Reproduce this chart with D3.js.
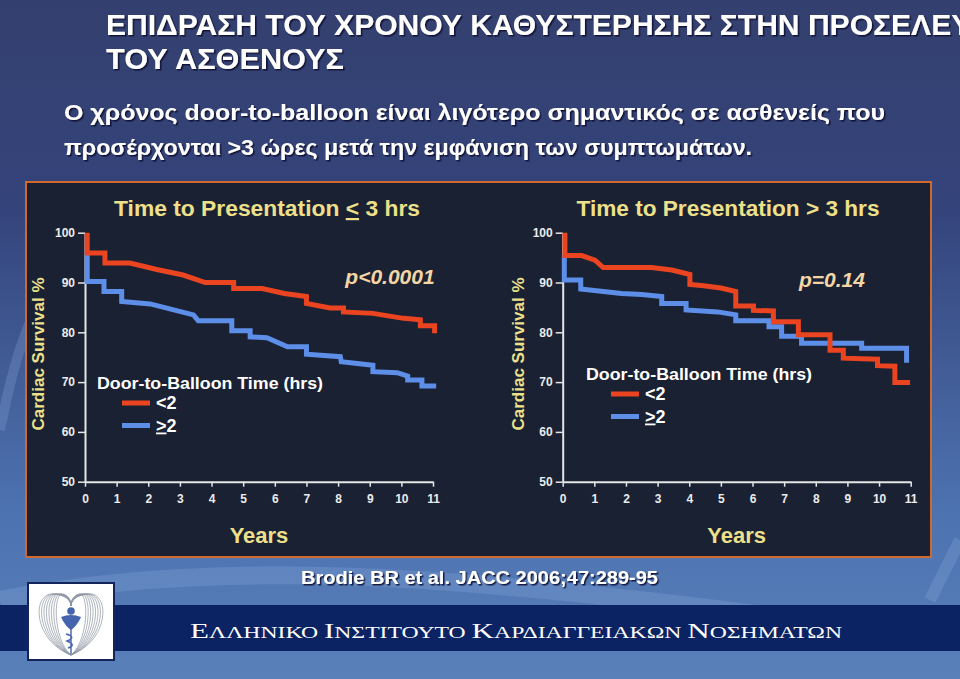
<!DOCTYPE html>
<html>
<head>
<meta charset="utf-8">
<script src="https://cdn.jsdelivr.net/npm/d3@7"></script>
<style>
  body { margin: 0; background: #33406f; }
  svg { display: block; }
</style>
</head>
<body>
<svg id="slide" width="960" height="679"></svg>
<script>
// tick values
const years = d3.range(0, 12);
const survivalTicks = [50, 60, 70, 80, 90, 100];

// Kaplan-Meier curves, [years, survival %]
// presentation <= 3 hrs
const earlyFast = [[0.07, 100], [0.07, 95.9], [0.63, 95.9], [0.63, 93.9], [1.42, 93.9], [2.27, 92.6],
    [3.1, 91.5], [3.8, 90.0], [4.7, 90.0], [4.7, 88.8], [5.6, 88.8], [6.3, 87.8], [7.0, 87.2],
    [7.0, 85.8], [7.75, 84.9], [8.17, 84.9], [8.17, 84.1], [9.1, 83.8], [10.07, 82.8],
    [10.6, 82.5], [10.6, 81.3], [11.05, 81.3], [11.05, 79.8]];
const earlySlow = [[0.07, 96.4], [0.07, 90.2], [0.6, 90.2], [0.6, 88.2], [1.16, 88.2], [1.16, 86.2],
    [2.06, 85.7], [3.43, 83.5], [3.58, 82.3], [4.64, 82.3], [4.64, 80.3], [5.22, 80.3], [5.22, 79.1],
    [5.75, 78.9], [6.4, 77.1], [7.0, 77.1], [7.0, 75.6], [8.07, 75.1], [8.1, 74.1], [9.1, 73.4],
    [9.1, 72.1], [9.87, 71.9], [10.2, 71.2], [10.2, 70.4], [10.65, 70.4], [10.65, 69.2], [11.1, 69.2]];

// presentation > 3 hrs
const lateFast = [[0.07, 100], [0.07, 95.4], [0.6, 95.4], [1.02, 94.5], [1.28, 93.0], [2.81, 93.0],
    [3.45, 92.5], [4.02, 91.6], [4.02, 89.6], [4.39, 89.4], [5.0, 88.9], [5.47, 88.2], [5.47, 85.3],
    [6.03, 85.3], [6.03, 84.4], [6.66, 84.3], [6.66, 82.1], [7.45, 82.1], [7.45, 79.5], [8.45, 79.5],
    [8.45, 76.4], [8.87, 76.4], [8.87, 74.8], [9.95, 74.6], [9.95, 73.3], [10.5, 73.2], [10.5, 69.9],
    [10.98, 69.9]];
const lateSlow = [[0.05, 95.5], [0.05, 90.5], [0.57, 90.5], [0.57, 88.7], [1.86, 87.8], [2.5, 87.6],
    [3.13, 87.2], [3.13, 85.8], [3.9, 85.8], [3.9, 84.5], [4.9, 84.1], [5.47, 83.5], [5.47, 82.3],
    [6.52, 82.3], [6.52, 81.1], [6.92, 81.1], [6.92, 79.2], [7.55, 79.2], [7.55, 77.8], [9.45, 77.8],
    [9.45, 76.8], [10.87, 76.8], [10.87, 73.9]];

const fastColor = "#ea4420";
const slowColor = "#5d8fe9";
const yellow = "#eee08a";
const sans = "'Liberation Sans', Arial, sans-serif";

const svg = d3.select("#slide");
const defs = svg.append("defs");

// drop shadow for header text
let shadow = defs.append("filter").attr("id", "shadow")
    .attr("x", "-5%").attr("y", "-20%").attr("width", "110%").attr("height", "150%");
shadow.append("feDropShadow").attr("dx", 1.5).attr("dy", 1.5)
    .attr("stdDeviation", 0.6).attr("flood-color", "#0b1030").attr("flood-opacity", 0.9);

let bg = defs.append("linearGradient").attr("id", "bg")
    .attr("x1", 0).attr("y1", 0).attr("x2", 0).attr("y2", 1);
bg.append("stop").attr("offset", "0").attr("stop-color", "#33406f");
bg.append("stop").attr("offset", "0.3").attr("stop-color", "#34437a");
bg.append("stop").attr("offset", "0.75").attr("stop-color", "#4d72b0");
bg.append("stop").attr("offset", "1").attr("stop-color", "#5a80ba");

// ---- slide background ----
svg.append("rect").attr("width", 960).attr("height", 679).attr("fill", "url(#bg)");

// faint swooshes
const swoosh = svg.append("g").attr("fill", "none").attr("stroke", "#8fb0e0");
swoosh.append("path").attr("d", "M0,600 C200,560 420,575 640,600 S900,640 960,620")
    .attr("stroke-width", 18).attr("opacity", 0.25);
swoosh.append("path").attr("d", "M0,430 C10,380 20,340 40,300")
    .attr("stroke-width", 10).attr("opacity", 0.25);
swoosh.append("path").attr("d", "M930,600 C940,580 950,560 960,540")
    .attr("stroke-width", 12).attr("opacity", 0.25);

svg.append("rect").attr("x", 0).attr("y", 605).attr("width", 960).attr("height", 46)
    .attr("fill", "#0c2363");

// ---- header ----
const header = svg.append("g").attr("fill", "#ffffff")
    .style("font-family", sans)
    .style("font-weight", "bold")
    .attr("filter", "url(#shadow)");

// the slide title runs past the right edge in the original
header.append("text").attr("x", 106).attr("y", 35).style("font-size", "29px")
    .attr("textLength", 905).attr("lengthAdjust", "spacingAndGlyphs")
    .text("ΕΠΙΔΡΑΣΗ ΤΟΥ ΧΡΟΝΟΥ ΚΑΘΥΣΤΕΡΗΣΗΣ ΣΤΗΝ ΠΡΟΣΕΛΕΥΣΗ");
header.append("text").attr("x", 106).attr("y", 69).style("font-size", "29px")
    .attr("textLength", 238).attr("lengthAdjust", "spacingAndGlyphs")
    .text("ΤΟΥ ΑΣΘΕΝΟΥΣ");
header.append("text").attr("x", 64).attr("y", 120).style("font-size", "22px")
    .attr("textLength", 821).attr("lengthAdjust", "spacingAndGlyphs")
    .text("Ο χρόνος door-to-balloon είναι λιγότερο σημαντικός σε ασθενείς που");
header.append("text").attr("x", 64).attr("y", 155).style("font-size", "22px")
    .attr("textLength", 688).attr("lengthAdjust", "spacingAndGlyphs")
    .text("προσέρχονται >3 ώρες μετά την εμφάνιση των συμπτωμάτων.");

// ---- figure panel ----
svg.append("rect").attr("x", 26).attr("y", 182).attr("width", 905).attr("height", 375)
    .attr("fill", "#1a2132").attr("stroke", "#d0692c").attr("stroke-width", 2);

const panels = [
    {left: 85, title: ["Time to Presentation ", "<", " 3 hrs"], titleX: 267, titleW: 306,
        fast: earlyFast, slow: earlySlow,
        p: "p<0.0001", pX: 390, pY: 284, legendX: 97, legendY: 389, yTitleX: 38},
    {left: 562.7, title: ["Time to Presentation ", ">", " 3 hrs"], titleX: 728, titleW: 303,
        fast: lateFast, slow: lateSlow,
        p: "p=0.14", pX: 832, pY: 287, legendX: 586, legendY: 380, yTitleX: 518}
];

const yScale = d3.scaleLinear().domain([50, 100]).range([481.7, 232.7]);

panels.forEach(function (pn, i) {
    let xScale = d3.scaleLinear().domain([0, 11]).range([pn.left, pn.left + 348]);
    let g = svg.append("g").style("font-family", sans).style("font-weight", "bold");

    // axes
    let yAxis = g.append("g").attr("transform", "translate(" + pn.left + ",0)")
        .call(d3.axisLeft(yScale).tickValues(survivalTicks).tickSize(7).tickSizeOuter(0).tickPadding(3));
    let xAxis = g.append("g").attr("transform", "translate(0," + yScale(50) + ")")
        .call(d3.axisBottom(xScale).tickValues(years).tickSize(5).tickSizeOuter(0).tickPadding(8));
    [yAxis, xAxis].forEach(function (ax) {
        ax.select(".domain").attr("stroke", "#e6e6e6").attr("stroke-width", 2);
        ax.selectAll(".tick line").attr("stroke", "#e6e6e6").attr("stroke-width", 1.5);
        ax.selectAll(".tick text").attr("fill", "#ececec").style("font-size", "12px")
            .style("font-family", sans).style("font-weight", "bold");
    });

    // survival curves
    let line = d3.line().x(d => xScale(d[0])).y(d => yScale(d[1]));
    g.append("path").datum(pn.slow).attr("d", line).attr("fill", "none")
        .attr("stroke", slowColor).attr("stroke-width", 5);
    g.append("path").datum(pn.fast).attr("d", line).attr("fill", "none")
        .attr("stroke", fastColor).attr("stroke-width", 5);

    // titles
    let t = g.append("text").attr("x", pn.titleX).attr("y", 216).attr("text-anchor", "middle")
        .attr("fill", yellow).style("font-size", "22px")
        .attr("textLength", pn.titleW).attr("lengthAdjust", "spacingAndGlyphs");
    t.append("tspan").text(pn.title[0]);
    t.append("tspan").text(pn.title[1]).style("text-decoration", i === 0 ? "underline" : "none");
    t.append("tspan").text(pn.title[2]);

    g.append("text").attr("transform", "translate(" + (pn.yTitleX + 6) + ",354) rotate(-90)")
        .attr("text-anchor", "middle").attr("fill", yellow).style("font-size", "17px")
        .text("Cardiac Survival %");

    g.append("text").attr("x", xScale(5.5)).attr("y", 543).attr("text-anchor", "middle")
        .attr("fill", yellow).style("font-size", "22px").text("Years");

    g.append("text").attr("x", pn.pX).attr("y", pn.pY).attr("text-anchor", "middle")
        .attr("fill", "#f3d6a4").style("font-size", "21px").style("font-style", "italic")
        .text(pn.p);

    // legend
    let lg = g.append("g").attr("transform", "translate(" + pn.legendX + "," + pn.legendY + ")");
    lg.append("text").attr("fill", "#ffffff").style("font-size", "17px")
        .attr("textLength", 226).attr("lengthAdjust", "spacingAndGlyphs")
        .text("Door-to-Balloon Time (hrs)");
    [[fastColor, "<", false], [slowColor, ">", true]].forEach(function (item, k) {
        let yy = 14 + k * 22.5;
        lg.append("line").attr("x1", 25).attr("x2", 53).attr("y1", yy).attr("y2", yy)
            .attr("stroke", item[0]).attr("stroke-width", 5);
        let lt = lg.append("text").attr("x", 59).attr("y", yy + 6).attr("fill", "#ffffff")
            .style("font-size", "18px");
        lt.append("tspan").text(item[1]).style("text-decoration", item[2] ? "underline" : "none");
        lt.append("tspan").text("2");
    });
});

// ---- footer ----
svg.append("text").attr("x", 301).attr("y", 584)
    .attr("fill", "#ffffff").attr("filter", "url(#shadow)")
    .style("font-family", sans).style("font-weight", "bold")
    .style("font-size", "19px")
    .attr("textLength", 357).attr("lengthAdjust", "spacingAndGlyphs")
    .text("Brodie BR et al. JACC 2006;47:289-95");

const inst = svg.append("text").attr("x", 190).attr("y", 638).attr("fill", "#ffffff")
    .style("font-family", "'Liberation Serif', 'DejaVu Serif', serif")
    .attr("textLength", 652).attr("lengthAdjust", "spacingAndGlyphs");
[["Ε", "ΛΛΗΝΙΚΟ "], ["Ι", "ΝΣΤΙΤΟΥΤΟ "], ["Κ", "ΑΡΔΙΑΓΓΕΙΑΚΩΝ "], ["Ν", "ΟΣΗΜΑΤΩΝ"]].forEach(function (w) {
    inst.append("tspan").style("font-size", "21px").text(w[0]);
    inst.append("tspan").style("font-size", "16px").text(w[1]);
});

// institute logo
const logo = svg.append("g");
logo.append("rect").attr("x", 28).attr("y", 583).attr("width", 86).attr("height", 77)
    .attr("fill", "#ffffff").attr("stroke", "#13245a").attr("stroke-width", 2);
const cx = 71;
d3.range(18, 40, 3).forEach(function (w) {
    logo.append("path")
        .attr("d", "M" + cx + ",655 C" + (cx - w) + ",640 " + (cx - w) + ",592 " + (cx - w * 0.45) + ",594 " +
            "C" + (cx - w * 0.15) + ",595 " + cx + ",600 " + cx + ",606 " +
            "C" + cx + ",600 " + (cx + w * 0.15) + ",595 " + (cx + w * 0.45) + ",594 " +
            "C" + (cx + w) + ",592 " + (cx + w) + ",640 " + cx + ",655")
        .attr("fill", "none").attr("stroke", "#8d93a0").attr("stroke-width", 0.7);
});
logo.append("circle").attr("cx", cx).attr("cy", 611).attr("r", 3.8).attr("fill", "#4663ad");
logo.append("path").attr("d", "M" + (cx - 10) + ",617 Q" + cx + ",613 " + (cx + 10) + ",617 Q" + (cx + 6) + ",626 " + cx + ",630 Q" + (cx - 6) + ",626 " + (cx - 10) + ",617 Z")
    .attr("fill", "#4663ad");
logo.append("path").attr("d", "M" + cx + ",628 L" + cx + ",654 M" + (cx - 5) + ",634 Q" + (cx + 6) + ",637 " + (cx - 4) + ",641 Q" + (cx + 6) + ",645 " + (cx - 3) + ",648")
    .attr("fill", "none").attr("stroke", "#4663ad").attr("stroke-width", 1.4);
</script>
</body>
</html>
